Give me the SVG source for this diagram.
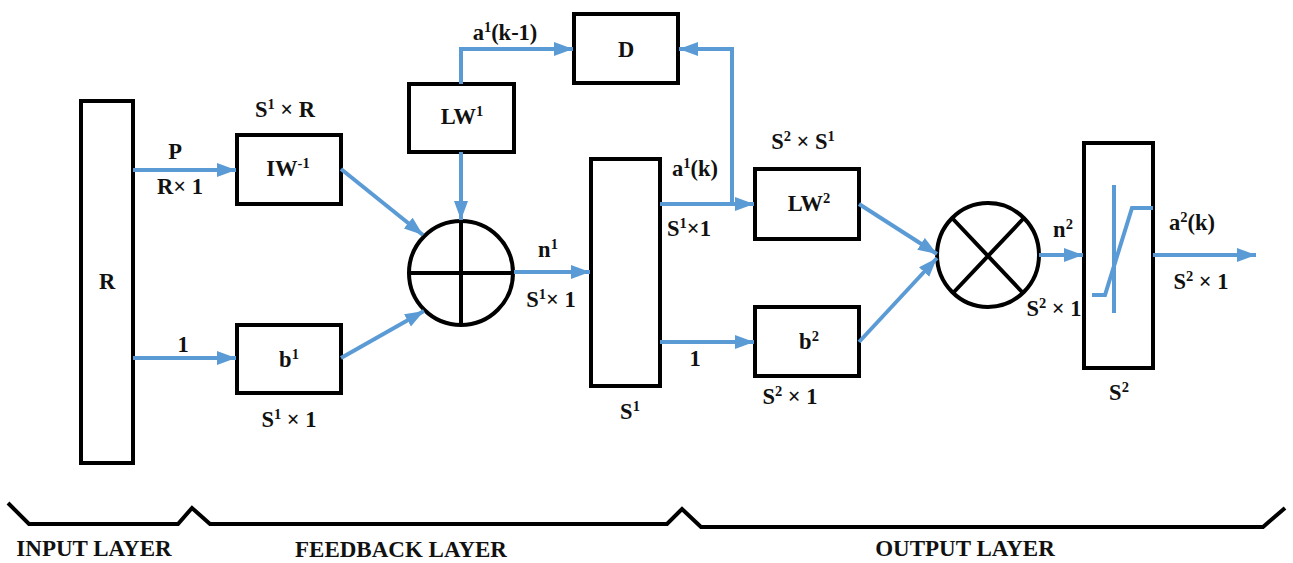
<svg xmlns="http://www.w3.org/2000/svg" width="1293" height="563" viewBox="0 0 1293 563">
<style>
text{font-family:"Liberation Serif",serif;font-weight:bold;font-size:22.5px;fill:#111}
.m{text-anchor:middle}
.s{font-size:14.5px}
.l{font-size:23px}
.b{fill:#fff;stroke:#000;stroke-width:4}
.k{fill:none;stroke:#000;stroke-width:4}
.c{fill:none;stroke:#5b9bd5;stroke-width:4}
.a{marker-end:url(#ah)}
</style>
<defs><marker id="ah" markerUnits="userSpaceOnUse" markerWidth="20" markerHeight="16" refX="19" refY="7" orient="auto"><path d="M0 0L19 7L0 14Z" fill="#5b9bd5"/></marker></defs>
<g id="node-R"><rect class="b" x="81" y="101" width="52" height="362"/><text class="m" x="107" y="289">R</text></g>
<g id="node-IW"><rect class="b" x="237" y="135" width="104" height="69"/><text class="m" x="288" y="176">IW<tspan class="s" dy="-8">-1</tspan></text></g>
<g id="node-b1"><rect class="b" x="237" y="325" width="104" height="68"/><text class="m" x="289" y="367">b<tspan class="s" dy="-8">1</tspan></text></g>
<g id="node-LW1"><rect class="b" x="409" y="84" width="105" height="68"/><text class="m" x="462" y="124">LW<tspan class="s" dy="-8">1</tspan></text></g>
<g id="node-D"><rect class="b" x="574" y="14" width="104" height="69"/><text class="m" x="626" y="57">D</text></g>
<g id="node-sum"><circle class="b" cx="461" cy="273" r="52"/><path class="k" d="M409 273H513M461 221V325"/></g>
<g id="node-S1"><rect class="b" x="591" y="159" width="69" height="227"/></g>
<g id="node-LW2"><rect class="b" x="755" y="169" width="104" height="70"/><text class="m" x="809" y="211">LW<tspan class="s" dy="-8">2</tspan></text></g>
<g id="node-b2"><rect class="b" x="755" y="307" width="104" height="69"/><text class="m" x="809" y="349">b<tspan class="s" dy="-8">2</tspan></text></g>
<g id="node-mul"><ellipse class="b" cx="988" cy="255" rx="51" ry="52"/><path class="k" d="M953 219L1023 293M1023 219L953 293"/></g>
<g id="node-S2"><rect class="b" x="1084" y="143" width="69" height="225"/><path class="c" d="M1114 185V313M1092 295H1105L1132 208H1153"/></g>
<g id="connectors">
<path class="c a" d="M133 170H236"/>
<path class="c a" d="M133 358H236"/>
<path class="c a" d="M341 169L423 235"/>
<path class="c a" d="M341 358L424 311"/>
<path class="c a" d="M461 152V220"/>
<path class="c a" d="M461 84V49H573"/>
<path class="c a" d="M514 272H590"/>
<path class="c a" d="M660 204H754"/>
<path class="c a" d="M732 204V49H679"/>
<path class="c a" d="M660 342H754"/>
<path class="c a" d="M859 204L937 254"/>
<path class="c a" d="M859 342L937 258"/>
<path class="c a" d="M1039 255H1083"/>
<path class="c a" d="M1153 255H1256"/>
</g>
<g id="brackets"><path class="k" d="M8 503L29 524H178L192 508L210 524H667L682 509L701 527H1263L1285 508"/></g>
<g id="labels">
<text class="m" x="175" y="159">P</text>
<text class="m" x="180" y="194">R× 1</text>
<text class="m" x="183" y="352">1</text>
<text class="m" x="285" y="117">S<tspan class="s" dy="-8">1</tspan><tspan dy="8"> × R</tspan></text>
<text class="m" x="289" y="427">S<tspan class="s" dy="-8">1</tspan><tspan dy="8"> × 1</tspan></text>
<text class="m" x="505" y="40">a<tspan class="s" dy="-8">1</tspan><tspan dy="8">(k-1)</tspan></text>
<text class="m" x="548" y="257">n<tspan class="s" dy="-8">1</tspan></text>
<text class="m" x="551" y="307">S<tspan class="s" dy="-8">1</tspan><tspan dy="8">×  1</tspan></text>
<text class="m" x="695" y="176">a<tspan class="s" dy="-8">1</tspan><tspan dy="8">(k)</tspan></text>
<text class="m" x="689" y="236">S<tspan class="s" dy="-8">1</tspan><tspan dy="8">×1</tspan></text>
<text class="m" x="695" y="366">1</text>
<text class="m" x="630" y="419">S<tspan class="s" dy="-8">1</tspan></text>
<text class="m" x="803" y="149">S<tspan class="s" dy="-8">2</tspan><tspan dy="8"> × S</tspan><tspan class="s" dy="-8">1</tspan></text>
<text class="m" x="790" y="404">S<tspan class="s" dy="-8">2</tspan><tspan dy="8"> × 1</tspan></text>
<text class="m" x="1063" y="237">n<tspan class="s" dy="-8">2</tspan></text>
<text class="m" x="1054" y="316">S<tspan class="s" dy="-8">2</tspan><tspan dy="8"> × 1</tspan></text>
<text class="m" x="1119" y="400">S<tspan class="s" dy="-8">2</tspan></text>
<text class="m" x="1192" y="230">a<tspan class="s" dy="-8">2</tspan><tspan dy="8">(k)</tspan></text>
<text class="m" x="1201" y="289">S<tspan class="s" dy="-8">2</tspan><tspan dy="8"> × 1</tspan></text>
<text class="m l" x="94" y="556">INPUT LAYER</text>
<text class="m l" x="401" y="557">FEEDBACK LAYER</text>
<text class="m l" x="965" y="556">OUTPUT LAYER</text>
</g>
</svg>
